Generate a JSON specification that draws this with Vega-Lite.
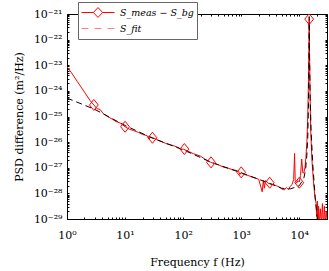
{
  "$schema": "https://vega.github.io/schema/vega-lite/v6.json",
  "width": 260,
  "height": 205,
  "autosize": {"type": "none"},
  "padding": {"left": 67, "top": 14, "right": 2, "bottom": 52},
  "background": "white",
  "config": {
    "view": {"stroke": "black", "strokeWidth": 1},
    "font": "DejaVu Serif",
    "axis": {
      "labelFont": "DejaVu Serif", "titleFont": "DejaVu Serif",
      "labelFontSize": 11, "titleFontSize": 11, "titleFontWeight": "normal",
      "labelColor": "black", "titleColor": "black", "tickColor": "black",
      "domainColor": "black", "grid": false, "tickSize": -2, "labelOverlap": false
    }
  },
  "datasets": {
    "meas": [
      {"f": 1, "psd": 8.7e-24}, {"f": 1.2, "psd": 5.0e-24}, {"f": 1.5, "psd": 2.34e-24},
      {"f": 2, "psd": 8.9e-25}, {"f": 2.5, "psd": 4.2e-25}, {"f": 2.9, "psd": 2.82e-25},
      {"f": 3.3, "psd": 2.0e-25}, {"f": 3.7, "psd": 1.9e-25}, {"f": 4.2, "psd": 1.3e-25}, {"f": 5, "psd": 1e-25},
      {"f": 6, "psd": 7.94e-26}, {"f": 7, "psd": 6.31e-26}, {"f": 8.2, "psd": 5.62e-26},
      {"f": 10, "psd": 3.98e-26}, {"f": 12, "psd": 3.16e-26}, {"f": 14, "psd": 2.82e-26},
      {"f": 17, "psd": 2.4e-26}, {"f": 20, "psd": 2.0e-26}, {"f": 24, "psd": 1.78e-26},
      {"f": 26, "psd": 1.3e-26}, {"f": 27, "psd": 1.6e-26}, {"f": 30, "psd": 1.48e-26},
      {"f": 35, "psd": 1.26e-26}, {"f": 40, "psd": 1.12e-26}, {"f": 50, "psd": 8.91e-27},
      {"f": 60, "psd": 7.94e-27}, {"f": 70, "psd": 7.08e-27}, {"f": 85, "psd": 6.03e-27},
      {"f": 90, "psd": 5.2e-27}, {"f": 100, "psd": 5.37e-27}, {"f": 120, "psd": 4.47e-27},
      {"f": 150, "psd": 3.55e-27}, {"f": 200, "psd": 2.82e-27}, {"f": 250, "psd": 2.0e-27},
      {"f": 300, "psd": 1.62e-27}, {"f": 400, "psd": 1.32e-27}, {"f": 500, "psd": 1.05e-27},
      {"f": 600, "psd": 9.55e-28}, {"f": 700, "psd": 8.51e-28}, {"f": 800, "psd": 7.94e-28},
      {"f": 900, "psd": 7.24e-28}, {"f": 950, "psd": 5.4e-28}, {"f": 1000, "psd": 6.61e-28},
      {"f": 1100, "psd": 5.62e-28}, {"f": 1300, "psd": 5.01e-28}, {"f": 1500, "psd": 4.47e-28},
      {"f": 2000, "psd": 3.55e-28}, {"f": 2300, "psd": 1.15e-28}, {"f": 2400, "psd": 3.16e-28}, {"f": 2500, "psd": 1.58e-28},
      {"f": 2600, "psd": 3.16e-28}, {"f": 3000, "psd": 2.4e-28}, {"f": 3500, "psd": 2.24e-28},
      {"f": 4000, "psd": 2.0e-28}, {"f": 4500, "psd": 1.78e-28}, {"f": 5000, "psd": 1.5e-28},
      {"f": 5500, "psd": 1.35e-28}, {"f": 6000, "psd": 1.7e-28}, {"f": 6500, "psd": 1.4e-28},
      {"f": 7000, "psd": 1.9e-28}, {"f": 7500, "psd": 2.2e-28}, {"f": 8000, "psd": 3.5e-28},
      {"f": 8300, "psd": 3.6e-27}, {"f": 8500, "psd": 3.16e-28}, {"f": 9000, "psd": 2.51e-28},
      {"f": 9500, "psd": 3.16e-28}, {"f": 10000, "psd": 2.8e-28}, {"f": 10500, "psd": 5.01e-28},
      {"f": 11000, "psd": 2.2e-27}, {"f": 11500, "psd": 6.31e-28}, {"f": 12000, "psd": 6.31e-28},
      {"f": 12500, "psd": 1e-27}, {"f": 13000, "psd": 2.51e-27}, {"f": 13500, "psd": 1e-26},
      {"f": 14000, "psd": 1e-25}, {"f": 14400, "psd": 3.16e-24}, {"f": 14700, "psd": 1e-22},
      {"f": 14800, "psd": 6.31e-22}, {"f": 15000, "psd": 3.16e-23}, {"f": 15300, "psd": 1e-24},
      {"f": 15700, "psd": 3.16e-26}, {"f": 16500, "psd": 2e-27}, {"f": 17500, "psd": 3.16e-28},
      {"f": 18500, "psd": 7.94e-29}, {"f": 19500, "psd": 3.98e-29}, {"f": 20000, "psd": 1.26e-29},
      {"f": 20500, "psd": 5.01e-29}, {"f": 21000, "psd": 3.16e-30}, {"f": 21500, "psd": 3.16e-29},
      {"f": 22000, "psd": 5.01e-30}, {"f": 23000, "psd": 2.51e-29}, {"f": 24000, "psd": 6.31e-30},
      {"f": 25000, "psd": 3.98e-29}, {"f": 26000, "psd": 3.98e-30}, {"f": 27000, "psd": 3.16e-29},
      {"f": 28000, "psd": 6.31e-30}, {"f": 29000, "psd": 2.0e-29}, {"f": 30000, "psd": 1e-29}
    ],
    "fit": [
      {"f": 1, "psd": 5.25e-25}, {"f": 3, "psd": 1.9e-25}, {"f": 10, "psd": 4.47e-26},
      {"f": 30, "psd": 1.41e-26}, {"f": 100, "psd": 5.01e-27}, {"f": 300, "psd": 1.66e-27},
      {"f": 1000, "psd": 6.31e-28}, {"f": 2000, "psd": 3.55e-28}, {"f": 3000, "psd": 2.51e-28},
      {"f": 5000, "psd": 1.58e-28}, {"f": 7000, "psd": 1.5e-28}, {"f": 9000, "psd": 1.8e-28},
      {"f": 10000, "psd": 2.0e-28}, {"f": 11000, "psd": 2.8e-28}, {"f": 12000, "psd": 4.0e-28},
      {"f": 12800, "psd": 8.0e-28}, {"f": 13500, "psd": 3.16e-27}, {"f": 14000, "psd": 1.58e-26},
      {"f": 14400, "psd": 3.16e-25}, {"f": 14650, "psd": 1e-23}, {"f": 14800, "psd": 7.94e-22},
      {"f": 15000, "psd": 3.16e-23}, {"f": 15400, "psd": 5.01e-25}, {"f": 16000, "psd": 2.51e-26},
      {"f": 17000, "psd": 1.58e-27}, {"f": 18000, "psd": 2.51e-28}, {"f": 19000, "psd": 5.01e-29},
      {"f": 20000, "psd": 1.58e-29}, {"f": 21500, "psd": 3.16e-30}
    ],
    "markers": [
      {"f": 2.9, "psd": 2.82e-25}, {"f": 10, "psd": 3.98e-26}, {"f": 29.6, "psd": 1.48e-26},
      {"f": 105, "psd": 5.37e-27}, {"f": 302, "psd": 1.62e-27}, {"f": 1000, "psd": 6.61e-28},
      {"f": 3090, "psd": 2.6e-28}, {"f": 10000, "psd": 2.6e-28}, {"f": 14800, "psd": 6.31e-22}
    ]
  },
  "layer": [
    {
      "data": {"name": "meas"},
      "mark": {"type": "line", "strokeWidth": 1, "clip": true},
      "encoding": {
        "x": {"field": "f", "type": "quantitative",
          "scale": {"type": "log", "domain": [1, 30000], "nice": false},
          "axis": {"orient": "bottom", "title": "Frequency f (Hz)", "titlePadding": 16, "labelPadding": 12, "labelOverlap": false, "labelFlush": false, "labelBound": false,
            "values": [1,2,3,4,5,6,7,8,9,10,20,30,40,50,60,70,80,90,100,200,300,400,500,600,700,800,900,1000,2000,3000,4000,5000,6000,7000,8000,9000,10000,20000,30000],
            "labelExpr": "indexof([1,10,100,1000,10000], datum.value) >= 0 ? '10' + ['⁰','¹','²','³','⁴'][indexof([1,10,100,1000,10000], datum.value)] : ''"}},
        "y": {"field": "psd", "type": "quantitative",
          "scale": {"type": "log", "domain": [1e-29, 1e-21], "nice": false},
          "axis": {"orient": "left", "title": "PSD difference (m²/Hz)", "titlePadding": 9, "labelPadding": 7, "labelOverlap": false, "labelFlush": false, "labelBound": false,
            "values": [1e-29,2e-29,3e-29,4e-29,5e-29,6e-29,7e-29,8e-29,9e-29,1e-28,2e-28,3e-28,4e-28,5e-28,6e-28,7e-28,8e-28,9e-28,1e-27,2e-27,3e-27,4e-27,5e-27,6e-27,7e-27,8e-27,9e-27,1e-26,2e-26,3e-26,4e-26,5e-26,6e-26,7e-26,8e-26,9e-26,1e-25,2e-25,3e-25,4e-25,5e-25,6e-25,7e-25,8e-25,9e-25,1e-24,2e-24,3e-24,4e-24,5e-24,6e-24,7e-24,8e-24,9e-24,1e-23,2e-23,3e-23,4e-23,5e-23,6e-23,7e-23,8e-23,9e-23,1e-22,2e-22,3e-22,4e-22,5e-22,6e-22,7e-22,8e-22,9e-22,1e-21],
            "labelExpr": "indexof([1e-29,1e-28,1e-27,1e-26,1e-25,1e-24,1e-23,1e-22,1e-21], datum.value) >= 0 ? '10' + ['⁻²⁹','⁻²⁸','⁻²⁷','⁻²⁶','⁻²⁵','⁻²⁴','⁻²³','⁻²²','⁻²¹'][indexof([1e-29,1e-28,1e-27,1e-26,1e-25,1e-24,1e-23,1e-22,1e-21], datum.value)] : ''"}},
        "stroke": {"datum": "S_meas − S_bg", "type": "nominal",
          "scale": {"domain": ["S_meas − S_bg", "S_fit"], "range": ["#ff0000", "#ff8080"]},
          "legend": {
            "title": null, "orient": "none", "legendX": 11, "legendY": -12,
            "fillColor": "white", "strokeColor": "#666666", "padding": 3, "cornerRadius": 0,
            "labelFontSize": 9.5, "labelFont": "DejaVu Serif", "labelFontStyle": "italic", "labelColor": "black", "labelOffset": 5,
            "symbolSize": 1089, "symbolStrokeWidth": 1, "clipHeight": 15, "rowPadding": 1,
            "encode": {"symbols": {"update": {
              "shape": [{"test": "datum.value === 'S_fit'", "value": "stroke"}, {"value": "M-1,0L-0.28,0M0.28,0L1,0M0,-0.3L0.28,0L0,0.3L-0.28,0Z"}],
              "strokeDash": [{"test": "datum.value === 'S_fit'", "value": [7, 6]}, {"value": []}],
              "fill": {"value": "transparent"}
            }}}
          }}
      }
    },
    {
      "data": {"name": "fit"},
      "mark": {"type": "line", "strokeWidth": 1, "strokeDash": [6, 4], "color": "#000000", "clip": true},
      "encoding": {
        "x": {"field": "f", "type": "quantitative", "scale": {"type": "log", "domain": [1, 30000], "nice": false}, "axis": null},
        "y": {"field": "psd", "type": "quantitative", "scale": {"type": "log", "domain": [1e-29, 1e-21], "nice": false}, "axis": null}
      }
    },
    {
      "data": {"name": "markers"},
      "mark": {"type": "point", "shape": "M-0.8,0L0,-1L0.8,0L0,1Z", "size": 121, "filled": false, "color": "#ff0000", "strokeWidth": 1, "opacity": 1, "clip": true},
      "encoding": {
        "x": {"field": "f", "type": "quantitative", "scale": {"type": "log", "domain": [1, 30000], "nice": false},
          "axis": {"orient": "top", "labels": false, "title": null, "domain": false,
            "values": [1,2,3,4,5,6,7,8,9,10,20,30,40,50,60,70,80,90,100,200,300,400,500,600,700,800,900,1000,2000,3000,4000,5000,6000,7000,8000,9000,10000,20000,30000]}},
        "y": {"field": "psd", "type": "quantitative", "scale": {"type": "log", "domain": [1e-29, 1e-21], "nice": false},
          "axis": {"orient": "right", "labels": false, "title": null, "domain": false,
            "values": [1e-29,2e-29,3e-29,4e-29,5e-29,6e-29,7e-29,8e-29,9e-29,1e-28,2e-28,3e-28,4e-28,5e-28,6e-28,7e-28,8e-28,9e-28,1e-27,2e-27,3e-27,4e-27,5e-27,6e-27,7e-27,8e-27,9e-27,1e-26,2e-26,3e-26,4e-26,5e-26,6e-26,7e-26,8e-26,9e-26,1e-25,2e-25,3e-25,4e-25,5e-25,6e-25,7e-25,8e-25,9e-25,1e-24,2e-24,3e-24,4e-24,5e-24,6e-24,7e-24,8e-24,9e-24,1e-23,2e-23,3e-23,4e-23,5e-23,6e-23,7e-23,8e-23,9e-23,1e-22,2e-22,3e-22,4e-22,5e-22,6e-22,7e-22,8e-22,9e-22,1e-21]}}
      }
    }
  ],
  "resolve": {"axis": {"x": "independent", "y": "independent"}}
}
